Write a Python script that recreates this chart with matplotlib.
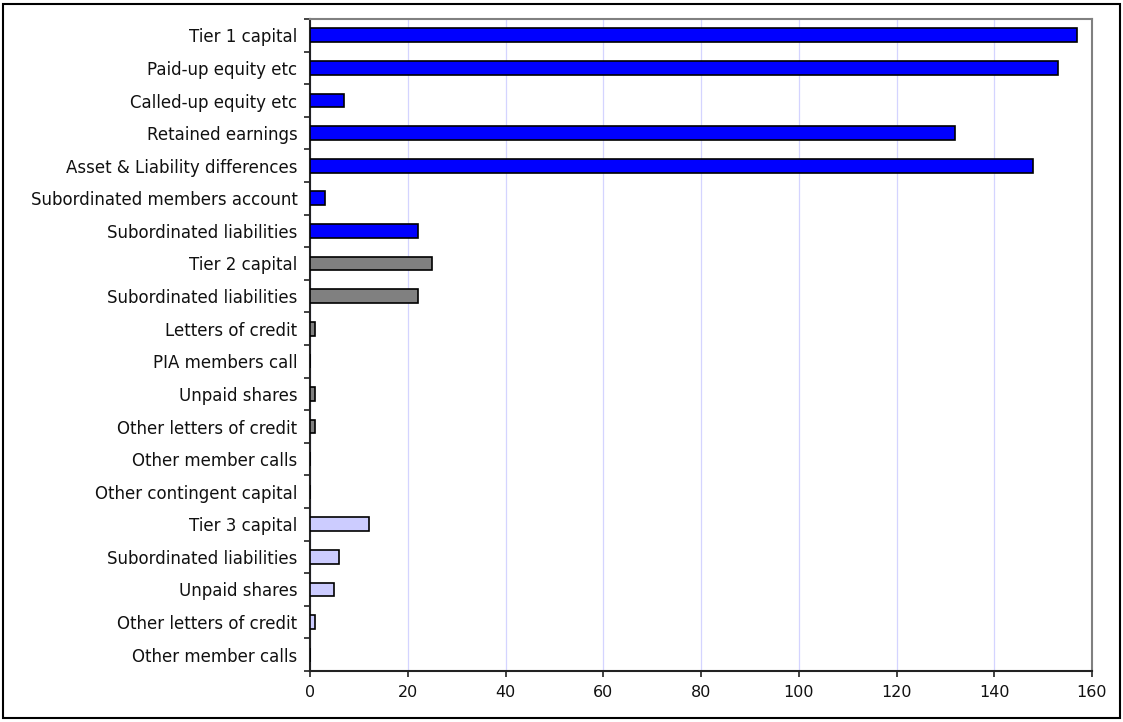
import numpy as np
import matplotlib.pyplot as plt
from matplotlib.patches import Rectangle

# data, top to bottom as shown
labels = ['Tier 1 capital', 'Paid-up equity etc', 'Called-up equity etc',
          'Retained earnings', 'Asset & Liability differences',
          'Subordinated members account', 'Subordinated liabilities',
          'Tier 2 capital', 'Subordinated liabilities', 'Letters of credit',
          'PIA members call', 'Unpaid shares', 'Other letters of credit',
          'Other member calls', 'Other contingent capital',
          'Tier 3 capital', 'Subordinated liabilities', 'Unpaid shares',
          'Other letters of credit', 'Other member calls']
values = [157, 153, 7, 132, 148, 3, 22,
          25, 22, 1, 0, 1, 1, 0, 0,
          12, 6, 5, 1, 0]
tiers = [1] * 7 + [2] * 8 + [3] * 5
tier_colors = {1: '#0000ff', 2: '#808080', 3: '#ccccff'}

plt.rcParams['font.family'] = ['DejaVu Sans']

fig = plt.figure(figsize=(11.23, 7.22), dpi=100)
W, H = 1123, 722
ax = fig.add_axes([310 / W, (H - 671) / H, (1092 - 310) / W, (671 - 19) / H])

y = np.arange(len(labels))
colors = [tier_colors[t] for t in tiers]
ax.barh(y, values, height=0.42, color=colors, edgecolor='black', linewidth=1.2, zorder=3)

ax.set_ylim(len(labels) - 0.5, -0.5)
ax.set_xlim(0, 160)
ax.set_xticks(np.arange(0, 161, 20))
ax.set_yticks(y)
ax.set_yticklabels(labels, fontsize=12, color='#111111')
ax.set_yticks(np.arange(-0.5, len(labels), 1), minor=True)
ax.tick_params(axis='y', which='major', length=0, pad=9)
ax.tick_params(axis='y', which='minor', length=4, width=1.2, direction='out', color='#222222')
ax.tick_params(axis='x', length=4, width=1.2, direction='out', labelsize=11.5,
               labelcolor='#111111', color='#222222', pad=6)

ax.xaxis.grid(True, color='#d4d4ff', linewidth=0.9, zorder=0)
ax.set_axisbelow(True)

for s in ['left', 'bottom']:
    ax.spines[s].set_color('#222222')
    ax.spines[s].set_linewidth(1.5)
for s in ['top', 'right']:
    ax.spines[s].set_color('#808080')
    ax.spines[s].set_linewidth(1.5)

# outer chart border
fig.patches.append(Rectangle((3 / W, (H - 718) / H), (1120 - 3) / W, (718 - 4) / H,
                             transform=fig.transFigure, fill=False,
                             edgecolor='black', linewidth=1.5))

plt.savefig('out.png', dpi=100)
